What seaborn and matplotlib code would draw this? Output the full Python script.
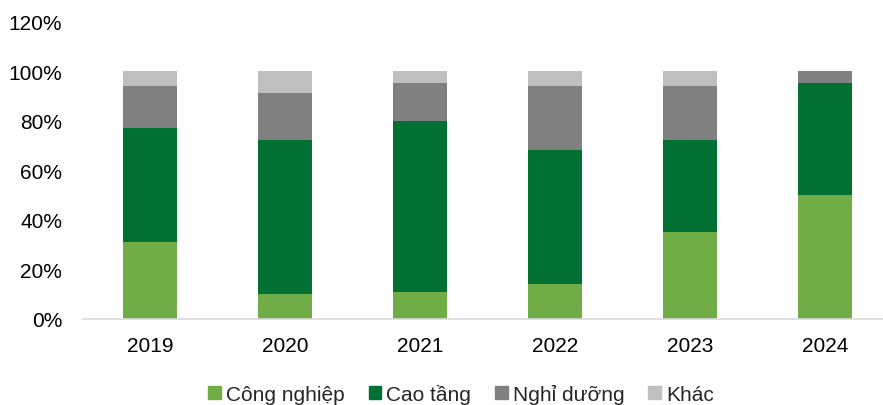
import numpy as np
import pandas as pd
import seaborn as sns
import matplotlib.pyplot as plt
from matplotlib.patches import Patch
from matplotlib.ticker import PercentFormatter

years = ['2019', '2020', '2021', '2022', '2023', '2024']
cong_nghiep = [31, 10, 11, 14, 35, 50]
cao_tang = [46, 62, 69, 54, 37, 45]
nghi_duong = [17, 19, 15, 26, 22, 5]
khac = [6, 9, 5, 6, 6, 0]

series = ['Công nghiệp', 'Cao tầng', 'Nghỉ dưỡng', 'Khác']
colors = ['#70AD47', '#007033', '#808080', '#BFBFBF']

df = pd.DataFrame({'year': years, 'Công nghiệp': cong_nghiep, 'Cao tầng': cao_tang,
                   'Nghỉ dưỡng': nghi_duong, 'Khác': khac})
cum = df[series].cumsum(axis=1)

sns.set_style('white')
plt.rcParams['font.family'] = ['Liberation Sans', 'DejaVu Sans']

fig = plt.figure(figsize=(8.83, 4.06), dpi=100)
ax = fig.add_axes([83 / 883, 86 / 406, 800 / 883, 297.6 / 406])

# draw cumulative from the top down so each layer covers the one above
for name, col in reversed(list(zip(series, colors))):
    sns.barplot(x=df['year'], y=cum[name], color=col, width=0.4, ax=ax,
                saturation=1, linewidth=0)

ax.set_xlim(-0.5, 5.43)
ax.set_ylim(0, 120)
ax.set_yticks(range(0, 121, 20))
ax.yaxis.set_major_formatter(PercentFormatter(decimals=0))
ax.set_xlabel('')
ax.set_ylabel('')
ax.tick_params(axis='both', labelsize=15, length=0, colors='black')
ax.tick_params(axis='x', pad=12)
ax.tick_params(axis='y', pad=15)
for s in ['left', 'right', 'top']:
    ax.spines[s].set_visible(False)
ax.spines['bottom'].set_color('#D9D9D9')
ax.spines['bottom'].set_linewidth(1.2)

handles = [Patch(color=c, label=n) for n, c in zip(series, colors)]
fig.legend(handles=handles, loc='center', bbox_to_anchor=(461 / 883, 1 - 395 / 406),
           ncol=4, frameon=False, fontsize=15, handlelength=0.6, handleheight=0.6,
           handletextpad=0.25, columnspacing=1.15)

fig.savefig('out.png', dpi=100)
